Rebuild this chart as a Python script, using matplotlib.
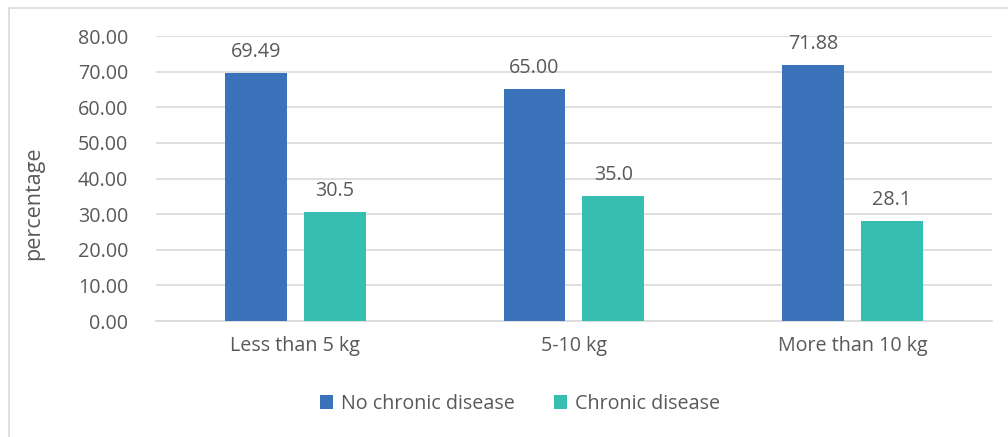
import numpy as np
import matplotlib.pyplot as plt
from matplotlib.patches import Rectangle

# weight change groups and share of each group (percent)
categories = ["Less than 5 kg", "5-10 kg", "More than 10 kg"]
no_chronic = [69.49, 65.00, 71.88]
chronic = [30.5, 35.0, 28.1]
no_chronic_labels = ["69.49", "65.00", "71.88"]
chronic_labels = ["30.5", "35.0", "28.1"]
yticks = [0, 10, 20, 30, 40, 50, 60, 70, 80]

plt.rcParams['font.family'] = ['Open Sans', 'DejaVu Sans']
txt = '#595959'
fs = 14.2

fig = plt.figure(figsize=(10.08, 4.37), dpi=100)
ax = fig.add_axes([0.1548, 0.2654, 0.8292, 0.6522])

# outer chart frame
fig.patches.append(Rectangle((9 / 1008, -0.1), 1.2, 1 - 8 / 437 + 0.1,
                             transform=fig.transFigure, fill=False,
                             edgecolor='#d9d9d9', linewidth=1.2))

x = np.arange(len(categories))
w = 0.222
off = 0.1416
b1 = ax.bar(x - off, no_chronic, w, color='#3a73b9', label='No chronic disease', zorder=3)
b2 = ax.bar(x + off, chronic, w, color='#36bfb1', label='Chronic disease', zorder=3)

for rect, lab in zip(b1, no_chronic_labels):
    ax.annotate(lab, (rect.get_x() + rect.get_width() / 2, rect.get_height()),
                xytext=(0, 8), textcoords='offset points', ha='center', va='bottom',
                fontsize=fs, color=txt)
for rect, lab in zip(b2, chronic_labels):
    ax.annotate(lab, (rect.get_x() + rect.get_width() / 2, rect.get_height()),
                xytext=(0, 8), textcoords='offset points', ha='center', va='bottom',
                fontsize=fs, color=txt)

ax.set_xlim(-0.5, 2.5)
ax.set_ylim(0, 80)
ax.set_yticks(yticks)
ax.set_yticklabels([f"{v:.2f}" for v in yticks])
ax.set_xticks(x)
ax.set_xticklabels(categories)
ax.tick_params(axis='both', length=0, labelsize=fs, labelcolor=txt)
ax.tick_params(axis='y', pad=20)
ax.tick_params(axis='x', pad=11)
ax.grid(axis='y', color='#d9d9d9', linewidth=1.2, zorder=0)
for s in ['top', 'right', 'left']:
    ax.spines[s].set_visible(False)
ax.spines['bottom'].set_color('#d9d9d9')
ax.spines['bottom'].set_linewidth(1.2)

ax.set_ylabel('percentage', fontsize=15.5, color=txt)
ax.yaxis.set_label_coords(44 / 1008, 1 - 203 / 437, transform=fig.transFigure)

fig.legend(handles=[b1, b2], loc='center', bbox_to_anchor=(520 / 1008, 1 - 404 / 437),
           ncol=2, frameon=False, fontsize=fs, labelcolor=txt,
           handlelength=0.65, handleheight=0.65, handletextpad=0.4, columnspacing=2.0)

fig.savefig('out.png', dpi=100)
